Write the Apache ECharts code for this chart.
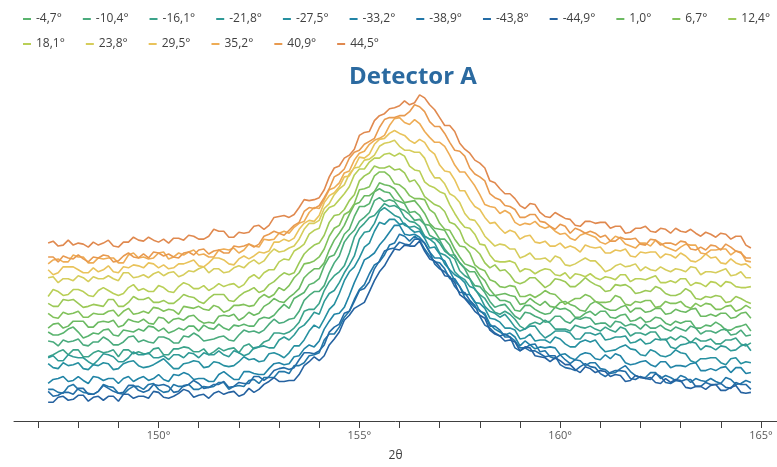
<!DOCTYPE html>
<html>
<head>
<meta charset="utf-8">
<script src="https://cdn.jsdelivr.net/npm/echarts@6/dist/echarts.min.js"></script>
<style>
  html, body { margin: 0; padding: 0; background: #ffffff; }
  #chart { width: 777px; height: 467px; }
</style>
</head>
<body>
<div id="chart"></div>
<script>
// Scan grid in 2θ (degrees)
const scanStart = 147.25;
const scanStep = 0.125;
const scanCount = 141;
const twoTheta = [];
for (let i = 0; i < scanCount; i++) twoTheta.push(+(scanStart + i * scanStep).toFixed(3));

// Axis ticks and labels
const tickValues = [147, 148, 149, 150, 151, 152, 153, 154, 155, 156, 157, 158, 159, 160, 161, 162, 163, 164, 165];
const labelValues = [150, 155, 160, 165];

// Tilt angles (series names) and their colours
const tiltLabels = ['-4,7°', '-10,4°', '-16,1°', '-21,8°', '-27,5°', '-33,2°', '-38,9°', '-43,8°', '-44,9°',
                    '1,0°', '6,7°', '12,4°', '18,1°', '23,8°', '29,5°', '35,2°', '40,9°', '44,5°'];
const lineColors = ['#5ab46e', '#4aab7d', '#3ba38a', '#2f9a96', '#2690a0', '#2184a6', '#2277a8', '#246ca6', '#2562a0',
                    '#6cba62', '#82c25b', '#9cc957', '#b9cf57', '#d6cd5c', '#e9c35b', '#eeac55', '#e89a4f', '#e0894f'];

// Intensity profiles, one per tilt angle (offset counts)
const tilt_p44_5 = [180,182,177,178,183,178,180,179,176,181,178,180,183,177,176,181,181,186,183,182,
  186,183,181,184,180,185,185,183,188,187,184,184,187,194,192,192,186,186,191,190,
  191,197,198,194,198,206,207,208,206,209,216,224,223,224,226,234,247,256,258,266,
  269,275,289,292,293,304,309,311,316,317,319,324,320,322,330,327,320,315,307,299,
  299,293,281,275,271,264,261,256,243,241,235,230,230,225,218,215,220,219,211,207,
  206,211,208,205,204,198,197,202,202,200,201,201,195,197,197,190,191,195,195,197,
  192,191,195,194,190,195,192,191,194,190,187,191,189,186,190,189,184,187,187,178,175];
const tilt_p40_9 = [166,166,161,167,165,164,168,164,161,166,165,168,167,161,162,167,170,166,165,169,
  165,171,170,167,169,166,165,170,171,168,173,174,169,172,173,170,170,177,176,177,
  179,176,179,187,189,192,190,188,193,198,201,212,216,215,218,226,235,247,250,255,
  266,272,274,280,283,286,297,305,307,307,309,309,313,320,318,313,303,298,298,291,
  282,274,273,268,256,250,247,243,230,226,224,218,217,214,206,206,209,209,202,201,
  197,194,199,197,190,195,193,190,192,190,186,188,182,182,186,184,184,185,179,178,
  184,183,178,180,180,178,182,181,174,173,176,173,178,177,173,179,176,172,170,165,165];
const tilt_p35_2 = [159,163,164,161,161,168,166,166,160,160,165,164,165,165,160,160,168,170,165,166,
  164,165,170,171,164,166,170,168,171,173,168,169,166,166,173,174,173,175,170,173,
  179,177,176,184,183,184,190,192,190,196,200,202,211,216,215,224,234,236,241,251,
  253,264,271,273,280,284,286,289,299,306,307,302,300,305,301,293,287,282,282,278,
  269,259,252,252,245,238,229,219,217,216,210,213,210,201,198,200,199,202,197,195,
  197,192,189,190,185,183,188,190,188,186,181,179,182,187,185,179,177,175,180,180,
  177,183,180,176,174,172,176,179,178,178,170,169,173,173,174,174,168,172,171,162,161];
const tilt_p29_5 = [153,148,150,156,156,156,153,150,150,155,151,153,157,151,150,156,155,158,157,155,
  160,159,155,158,154,155,159,159,161,163,157,156,160,165,165,163,159,158,164,167,
  164,167,171,170,172,181,181,184,182,185,194,200,203,202,208,221,228,231,237,247,
  248,257,267,266,270,280,285,286,291,294,291,289,284,281,285,282,274,270,259,253,
  252,244,233,233,224,217,214,206,200,201,195,190,193,191,184,187,188,181,180,182,
  177,177,180,175,177,175,171,178,176,175,176,170,170,173,172,174,167,166,171,170,
  171,171,165,169,168,165,170,167,162,161,164,169,165,166,160,159,164,160,158,159,155];
const tilt_p23_8 = [145,146,140,144,144,142,147,145,141,146,144,144,147,144,142,150,150,145,146,148,
  145,149,151,147,150,151,146,148,152,151,154,156,150,154,154,150,151,155,157,155,
  160,163,159,162,169,174,171,172,175,177,184,194,200,200,203,215,220,229,235,239,
  250,256,257,264,265,269,278,281,282,284,278,274,274,272,272,266,254,246,246,240,
  230,227,221,210,204,203,196,187,182,177,179,178,174,174,165,167,170,164,164,165,
  161,167,165,158,157,159,162,165,162,162,157,151,153,157,159,156,157,159,152,156,
  153,152,156,153,151,154,153,151,156,155,148,151,151,150,152,154,147,148,151,145,145];
const tilt_p18_1 = [126,133,131,127,128,133,133,131,127,126,132,135,132,129,127,129,135,138,132,134,
  131,131,137,135,131,130,136,140,138,134,134,137,132,135,139,136,138,139,135,138,
  145,148,144,150,153,153,161,164,163,172,175,179,189,193,195,210,216,218,224,230,
  237,249,255,255,262,266,266,270,271,268,271,268,258,254,253,242,238,236,232,230,
  219,210,202,196,195,189,179,178,168,162,161,161,162,160,151,154,153,149,152,154,
  153,148,147,150,144,149,148,146,149,145,143,146,145,143,148,148,141,144,144,143,
  145,147,140,140,142,140,144,144,137,140,139,136,141,140,136,141,140,136,135,135,136];
const tilt_p12_4 = [119,116,116,123,122,123,119,115,116,118,117,116,123,123,116,116,120,126,123,123,
  125,120,120,122,119,119,123,128,126,125,121,119,124,128,128,128,122,121,126,130,
  132,135,130,132,138,141,146,150,148,150,160,169,174,178,180,188,201,208,209,214,
  223,229,243,248,251,258,256,256,258,254,255,251,242,244,237,227,223,219,217,212,
  201,199,193,181,177,174,169,160,155,158,152,153,148,141,139,141,145,145,140,135,
  138,144,143,141,136,136,140,145,141,138,136,131,132,138,137,138,135,129,130,132,
  131,136,134,129,127,127,129,134,131,124,123,126,125,127,126,120,121,126,124,121,119];
const tilt_p6_7 = [109,105,104,110,108,109,111,105,105,109,108,108,111,112,106,111,114,108,109,111,
  109,115,114,111,113,112,108,116,115,114,116,113,112,117,115,110,112,117,117,118,
  116,117,124,128,125,128,135,132,137,145,150,159,160,162,166,174,187,195,198,209,
  212,220,234,235,237,248,252,252,248,240,239,235,228,225,225,224,214,210,200,194,
  193,184,177,176,170,158,154,152,143,141,136,135,137,136,126,126,128,125,128,132,
  129,128,123,118,121,124,124,128,126,121,120,120,121,127,125,118,117,121,120,122,
  122,115,116,121,119,119,121,116,114,119,116,119,118,113,113,116,117,111,113,117,114];
const tilt_p1_0 = [94,98,99,94,96,101,101,101,95,95,100,101,100,102,95,97,103,101,100,103,
  99,98,105,104,99,103,104,102,106,107,102,99,100,99,106,107,106,108,102,105,
  110,107,109,116,119,124,121,120,125,129,134,145,150,154,154,160,173,183,190,198,
  209,219,221,228,228,232,241,239,238,235,228,221,222,223,217,210,200,195,194,193,
  184,174,166,159,157,155,147,142,133,127,128,129,127,126,118,119,124,120,117,121,
  116,115,120,121,118,116,112,111,118,121,118,114,112,112,115,117,110,114,114,110,
  111,114,114,108,109,113,111,110,113,114,106,106,108,106,109,109,104,105,109,110,104];
const tilt_m4_7 = [90,87,87,89,93,95,90,84,86,89,88,92,93,87,86,92,91,90,93,91,
  96,95,91,94,89,91,94,92,96,96,91,97,94,93,98,94,92,97,96,98,
  96,96,103,105,104,107,113,118,114,124,127,130,138,140,144,157,166,168,178,189,
  194,207,217,217,220,232,235,232,231,224,222,220,211,212,208,199,198,192,184,184,
  178,167,160,155,151,151,142,132,127,127,122,122,120,112,111,117,117,113,110,108,
  109,115,113,114,111,105,105,109,111,107,111,111,105,104,107,108,101,102,105,100,
  101,105,104,99,97,101,99,101,101,94,94,97,96,100,97,92,92,95,96,98,91];
const tilt_m10_4 = [81,80,76,82,80,81,83,77,76,80,80,85,82,77,77,80,85,86,80,82,
  80,79,85,85,83,79,79,86,85,89,86,81,82,83,85,86,82,81,87,92,
  90,91,89,92,98,103,99,100,103,104,111,122,127,131,131,137,150,160,167,181,
  188,193,202,206,211,223,226,222,224,222,215,213,209,203,204,199,188,185,183,174,
  168,168,160,154,144,137,136,130,121,115,117,118,112,106,103,110,109,106,104,100,
  101,106,106,101,99,104,103,105,104,98,99,99,95,101,100,96,98,97,93,98,
  94,94,97,93,91,95,93,91,96,94,88,91,91,89,92,93,87,88,92,86,87];
const tilt_m16_1 = [65,67,70,72,67,72,72,65,65,69,71,69,70,72,65,72,72,68,70,68,
  68,73,74,67,67,73,73,75,74,70,70,73,67,70,74,71,73,74,69,76,
  78,73,75,80,82,89,89,88,90,94,100,111,113,113,119,132,141,147,151,157,
  170,186,195,200,206,208,214,220,217,218,215,206,202,201,197,187,184,185,180,172,
  168,164,152,147,144,133,128,124,116,110,108,111,108,103,96,93,98,100,98,102,
  99,93,93,93,91,97,95,94,96,93,91,95,92,90,95,93,86,89,89,87,
  90,90,83,82,85,82,86,84,79,84,81,81,83,78,78,82,82,84,78,76,79];
const tilt_m21_8 = [64,66,61,61,67,65,64,64,60,57,62,68,67,65,60,60,64,70,67,67,
  69,64,64,66,62,67,67,64,69,68,64,69,67,67,71,67,65,71,69,66,
  68,74,75,76,74,74,82,85,82,87,94,97,103,110,108,121,129,132,140,150,
  158,167,184,191,192,200,212,216,212,208,206,198,196,197,194,187,184,180,170,168,
  164,151,146,143,136,134,126,116,111,109,105,108,102,95,91,93,96,96,89,84,
  87,91,91,91,89,83,83,89,89,87,89,82,83,85,85,86,79,80,83,78,
  79,83,82,83,75,73,77,78,80,79,72,76,75,72,76,75,71,72,76,78,71];
const tilt_m27_5 = [58,54,53,59,56,57,59,53,52,57,56,59,58,52,53,58,60,61,56,54,
  55,57,60,63,58,53,53,58,59,61,60,54,55,60,59,56,55,56,60,65,
  62,63,60,61,68,69,67,64,69,76,76,82,91,97,94,103,113,118,129,142,
  151,156,165,176,180,192,201,199,204,204,199,200,195,191,192,185,175,176,169,159,
  153,148,145,140,128,120,119,114,104,103,100,94,94,92,83,84,88,81,82,82,
  79,85,83,78,75,75,80,82,80,82,75,70,71,72,75,77,73,72,67,66,
  72,70,66,65,67,72,69,68,61,59,63,63,64,64,59,57,63,64,58,60,59];
const tilt_m33_2 = [38,42,43,45,40,41,45,41,38,45,44,41,43,43,38,43,45,40,43,45,
  41,43,47,42,40,47,46,49,47,42,43,43,40,40,47,50,46,42,42,50,
  50,48,47,47,53,58,59,57,58,65,66,73,77,75,81,93,101,108,109,115,
  127,140,151,163,166,170,178,184,191,198,198,189,188,189,186,180,171,165,165,162,
  152,142,136,128,128,121,111,109,98,93,90,87,89,85,76,81,77,73,75,74,
  75,74,67,68,64,62,67,69,68,63,62,67,63,68,66,59,57,58,60,61,
  57,55,60,60,54,56,56,55,58,59,51,51,53,51,54,55,49,54,54,48,49];
const tilt_m38_9 = [32,32,29,28,35,37,32,29,28,27,30,37,35,34,28,27,32,35,35,32,
  37,38,32,29,30,37,35,35,37,32,32,35,34,35,39,39,32,35,36,35,
  41,42,38,44,44,44,50,50,48,56,56,59,66,67,69,82,88,88,95,105,
  111,123,133,138,149,158,161,168,178,180,189,187,182,187,183,174,167,161,160,154,
  144,144,136,125,120,115,112,107,96,96,92,85,85,81,74,74,77,78,70,71,
  65,63,67,62,58,62,61,56,59,59,53,52,48,49,53,56,50,46,44,44,
  49,49,43,46,44,41,46,44,39,43,41,40,43,40,38,44,42,37,38,41,39];
const tilt_m43_8 = [30,25,26,29,29,27,33,33,27,27,30,36,33,30,28,29,36,36,31,29,
  31,37,36,37,35,29,30,36,37,41,38,33,34,37,37,40,34,35,39,38,
  38,45,45,41,45,51,53,54,52,54,62,69,69,68,71,77,90,95,98,109,
  111,121,132,134,141,154,162,172,174,175,181,179,178,184,184,180,171,159,154,151,
  146,136,130,130,122,117,106,97,94,89,86,88,85,74,71,74,71,71,68,65,
  66,66,57,54,53,51,55,58,55,54,48,45,49,51,51,50,43,42,45,43,
  42,48,45,39,38,41,40,42,42,35,35,39,37,37,38,34,33,39,37,37,32];
const tilt_m44_9 = [19,19,24,25,21,22,26,26,20,24,25,21,25,25,20,27,27,23,25,25,
  23,30,29,24,23,25,28,32,30,24,26,27,23,28,30,27,29,30,25,27,
  33,29,32,37,40,44,40,40,41,41,47,56,60,65,61,66,77,83,90,102,
  107,114,117,120,131,142,151,157,166,174,173,178,177,177,182,172,164,162,156,147,
  146,140,128,124,118,111,107,104,92,88,86,81,82,80,71,75,74,66,65,64,
  60,64,61,57,57,52,49,55,53,49,51,50,45,47,46,40,41,46,44,43,
  44,39,38,43,39,42,41,34,33,35,35,32,36,37,31,31,34,36,29,28,29];

// Same order as tiltLabels
const profiles = [tilt_m4_7, tilt_m10_4, tilt_m16_1, tilt_m21_8, tilt_m27_5, tilt_m33_2, tilt_m38_9, tilt_m43_8, tilt_m44_9,
                  tilt_p1_0, tilt_p6_7, tilt_p12_4, tilt_p18_1, tilt_p23_8, tilt_p29_5, tilt_p35_2, tilt_p40_9, tilt_p44_5];

const series = profiles.map((values, k) => ({
  name: tiltLabels[k],
  type: 'line',
  showSymbol: false,
  symbol: 'none',
  data: twoTheta.map((x, i) => [x, values[i]]),
  lineStyle: { width: 1.6, color: lineColors[k] },
  itemStyle: { color: lineColors[k] },
  emphasis: { disabled: true }
}));

const legendBase = {
  orient: 'horizontal',
  left: 18,
  width: 775,
  icon: 'rect',
  itemWidth: 8,
  itemHeight: 2,
  itemGap: 21,
  textStyle: { fontFamily: 'Open Sans', fontSize: 12, color: '#404040' }
};

const chart = echarts.init(document.getElementById('chart'), null, { renderer: 'canvas' });
chart.setOption({
  animation: false,
  backgroundColor: '#ffffff',
  title: {
    text: 'Detector A',
    left: 344,
    top: 60,
    textStyle: { fontFamily: 'Open Sans', fontWeight: 'bold', fontSize: 24, color: '#2b6aa0' }
  },
  legend: [
    Object.assign({}, legendBase, { top: 8, data: tiltLabels.slice(0, 12) }),
    Object.assign({}, legendBase, { top: 33, data: tiltLabels.slice(12) })
  ],
  grid: { left: 14, right: 0, top: 85, bottom: 42 },
  xAxis: {
    type: 'value',
    min: 146.4,
    max: 165.4,
    name: '2θ',
    nameLocation: 'middle',
    nameGap: 29,
    nameTextStyle: { fontFamily: 'Open Sans', fontSize: 12, color: '#404040' },
    axisLine: { lineStyle: { color: '#404040', width: 1 } },
    axisTick: { show: true, length: 7, customValues: tickValues, lineStyle: { color: '#404040' } },
    axisLabel: {
      customValues: labelValues,
      margin: 9,
      fontFamily: 'Open Sans',
      fontSize: 11,
      color: '#595959',
      formatter: v => v + '°'
    },
    splitLine: { show: false }
  },
  yAxis: {
    type: 'value',
    min: 0,
    max: 340,
    show: false
  },
  series: series
});
</script>
</body>
</html>
